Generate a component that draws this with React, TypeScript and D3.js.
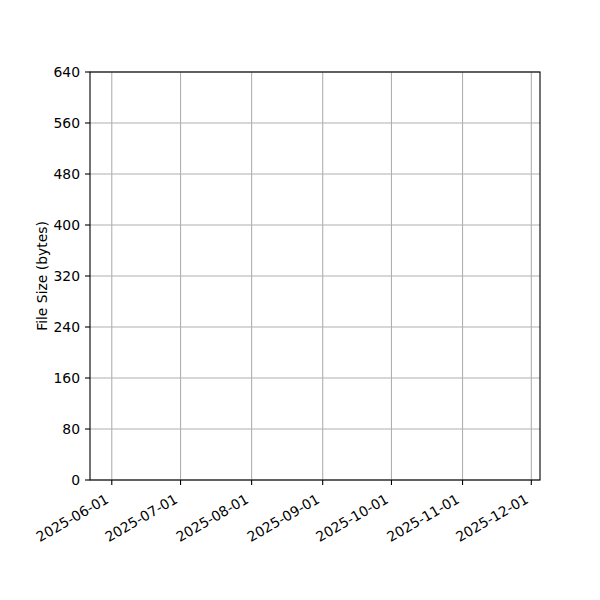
import React from "react";
import * as d3 from "d3";

const yTicks = [0, 80, 160, 240, 320, 400, 480, 560, 640];
const xTickLabels = ["2025-06-01", "2025-07-01", "2025-08-01", "2025-09-01", "2025-10-01", "2025-11-01", "2025-12-01"];
const xDomain = ["2025-05-22T12:00", "2025-12-04T19:00"];
const yDomain = [0, 640];
const yLabel = "File Size (bytes)";

const W = 600, H = 600;
const M = { left: 90, right: 540, top: 72, bottom: 480 };
const FONT = "'DejaVu Sans', sans-serif";
const FS = 13.9;

export default function App() {
  const x = d3.scaleTime().domain(xDomain.map((d) => new Date(d))).range([M.left, M.right]);
  const y = d3.scaleLinear().domain(yDomain).range([M.bottom, M.top]);
  const xt = xTickLabels.map((s) => new Date(s + "T00:00"));
  return (
    <svg width={W} height={H} style={{ display: "block", margin: -8 }} fontFamily={FONT}>
      <rect width={W} height={H} fill="#fff" />
      {xt.map((d, i) => (
        <line key={"gx" + i} x1={x(d)} x2={x(d)} y1={M.top} y2={M.bottom} stroke="#b0b0b0" strokeWidth={1.1} />
      ))}
      {yTicks.map((v) => (
        <line key={"gy" + v} x1={M.left} x2={M.right} y1={y(v)} y2={y(v)} stroke="#b0b0b0" strokeWidth={1.1} />
      ))}
      <rect x={M.left} y={M.top} width={M.right - M.left} height={M.bottom - M.top} fill="none" stroke="#000" strokeWidth={1.1} />
      {yTicks.map((v) => (
        <g key={"ty" + v}>
          <line x1={M.left - 5} x2={M.left} y1={y(v)} y2={y(v)} stroke="#000" strokeWidth={1.1} />
          <text x={M.left - 10} y={y(v)} dy="0.36em" textAnchor="end" fontSize={FS}>{v}</text>
        </g>
      ))}
      {xt.map((d, i) => (
        <g key={"tx" + i}>
          <line x1={x(d)} x2={x(d)} y1={M.bottom} y2={M.bottom + 5} stroke="#000" strokeWidth={1.1} />
          <text
            transform={`translate(${x(d) - 2},${M.bottom + 22}) rotate(-30)`}
            textAnchor="end"
            fontSize={FS}
          >
            {xTickLabels[i]}
          </text>
        </g>
      ))}
      <text transform={`translate(47,${(M.top + M.bottom) / 2}) rotate(-90)`} textAnchor="middle" fontSize={FS}>
        {yLabel}
      </text>
    </svg>
  );
}
